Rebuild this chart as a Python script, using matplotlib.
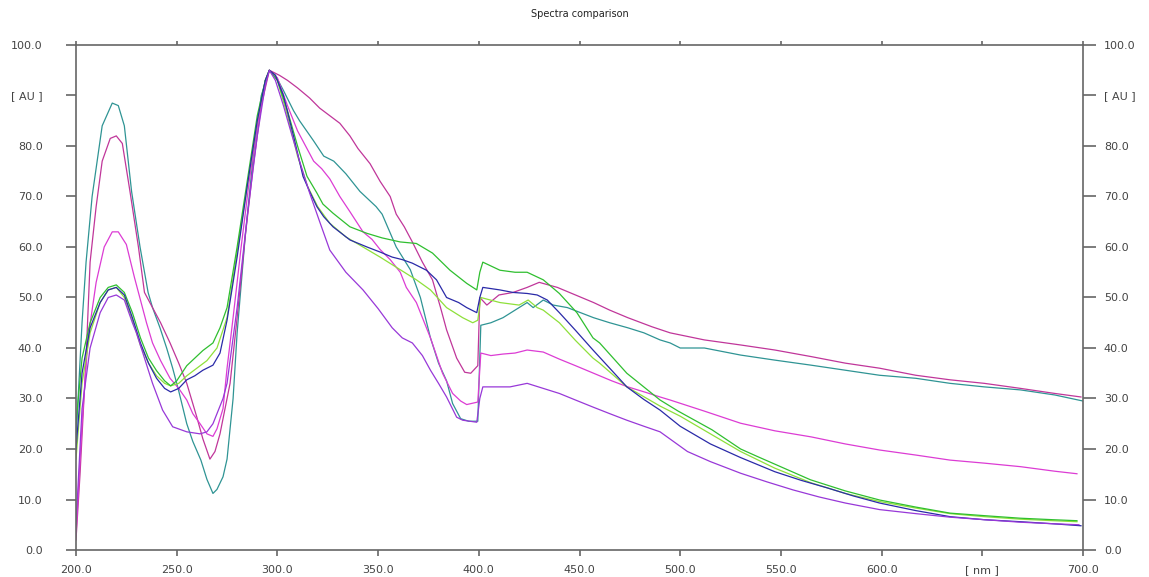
import matplotlib
matplotlib.use("Agg")
import matplotlib.pyplot as plt
import matplotlib.transforms as mtrans
from matplotlib.ticker import FixedLocator, FixedFormatter

# ---------------- data ----------------
teal_nm = [200, 203, 205, 208, 213, 218, 221, 224, 227.6, 231.8, 235.8, 238, 241.7, 245, 248, 251, 255, 258, 262, 265, 268,
           270, 273, 275, 278, 280, 284, 288, 292, 296, 299, 303, 308, 311, 318, 323, 328, 334, 341, 349, 352, 359, 366,
           371, 376, 380, 384, 387, 391, 395, 399.5, 401, 406, 412, 418, 424, 427, 432, 437, 444, 457, 465, 474, 482,
           490, 495, 500, 512, 530, 547, 565, 582, 599, 617, 634, 651, 669, 686, 700]
teal_au = [22, 45, 57, 70, 84, 88.5, 88, 84, 71, 60, 51, 48, 44, 40, 36, 31.5, 25, 21.5, 17.8, 14, 11.2,
           12, 14.5, 18, 30, 43, 62, 78, 90, 95, 94, 91, 87, 85, 81, 78, 77, 74.5, 71, 68, 66.5, 60, 55.5,
           50, 42, 37, 33.5, 29, 26, 25.5, 25.5, 44.5, 45, 46, 47.5, 49, 48, 49.5, 48.5, 48, 46, 45, 44, 43,
           41.6, 41, 40, 40, 38.6, 37.6, 36.6, 35.6, 34.6, 34, 33, 32.3, 31.7, 30.7, 29.5]

dmag_nm = [200, 202, 205, 207, 210, 213, 217, 220, 223, 226.8, 231, 234, 238, 242, 246.7, 251, 255, 260, 263, 266.5,
           269, 271.5, 276.5, 280, 284, 288, 292, 296, 301, 305, 310, 316, 321, 326, 331, 336, 340, 346, 351, 356,
           359, 363, 367, 372, 377, 381, 384, 389, 393, 396, 399.5, 400.5, 404, 410, 417, 424, 430, 439, 445, 451,
           457, 465, 474, 486, 495, 512, 530, 547, 565, 582, 599, 617, 634, 651, 669, 686, 699]
dmag_au = [2, 15, 38, 57, 68, 77, 81.5, 82, 80.5, 71, 60, 51, 48, 45, 41, 37, 33, 26.3, 22, 18,
           19.5, 23, 33, 46, 62, 76, 88, 95, 94, 93, 91.5, 89.5, 87.5, 86, 84.5, 82, 79.5, 76.5, 73, 70,
           66.5, 64, 61, 57, 53.5, 48, 43.6, 38, 35.2, 35, 36.5, 50, 48.5, 50.5, 51, 52, 53, 52, 51, 50,
           49, 47.5, 46, 44.2, 43, 41.6, 40.6, 39.6, 38.3, 37, 36, 34.6, 33.7, 33, 32, 31, 30.3]

bmag_nm = [200, 203, 206, 210, 214, 218, 221, 225, 229, 232, 235, 238, 242, 246.7, 251, 255, 258, 261.6, 265, 268,
           270, 273, 275, 278, 282, 286, 290, 294, 296, 300, 305, 310, 314, 318, 322, 326, 331, 336, 342.5, 347,
           351, 356, 361, 364, 369, 373, 376, 382, 387, 391, 394, 399.5, 401, 406, 412, 418, 424, 432, 440, 448,
           457, 466, 474, 483, 490, 495, 512, 530, 547, 565, 582, 599, 617, 634, 651, 669, 686, 697]
bmag_au = [3, 25, 42, 53, 60, 63, 63, 60.5, 54, 49.5, 45, 41, 37.5, 34, 32, 29.7, 27, 25, 23, 22.5,
           24, 28, 36, 46, 60, 73, 84, 93, 95, 93.5, 88, 83, 80, 77, 75.5, 73.5, 70, 67, 63, 61.5,
           59.5, 57.5, 55, 52, 49, 45, 42, 35, 31, 29.5, 28.8, 29.3, 39, 38.5, 38.8, 39, 39.6, 39.2, 37.8, 36.5,
           35, 33.5, 32.3, 31.2, 30.3, 29.7, 27.5, 25.1, 23.6, 22.4, 21, 19.8, 18.8, 17.8, 17.2, 16.5, 15.6, 15.1]

green_nm = [200, 203, 207, 212, 216, 220, 224, 228, 232, 236, 240, 244, 247, 250, 255, 259, 263, 268, 271.5, 275,
            280, 285, 290, 294, 296, 300, 305, 310, 314.7, 319.6, 322.6, 327.6, 336, 344.5, 352, 361, 369, 377,
            385.7, 394, 399, 400.5, 402, 410.5, 418, 424, 432, 440, 448.7, 456.7, 460, 473.5, 490, 499, 515.8,
            530, 538.4, 564.7, 582, 599, 617, 634, 651, 668.7, 685, 697]
green_au = [25, 38, 45, 50, 52, 52.5, 51, 47, 42, 38, 35.5, 33.5, 32.5, 33.5, 36.5, 38, 39.5, 41, 44, 48,
            60, 73, 86, 93, 95, 93, 87, 80, 74, 70.7, 68.5, 66.7, 64, 62.7, 61.8, 61, 60.7, 58.8,
            55.4, 52.8, 51.5, 55, 57, 55.4, 55, 55, 53.5, 50.8, 47, 42, 41, 35, 29.7, 27.5, 23.8,
            20, 18.5, 13.9, 11.7, 9.9, 8.5, 7.3, 6.8, 6.3, 6.0, 5.8]

navy_nm = [200, 203, 207, 212, 216, 220, 224, 228, 232, 236, 240, 244, 247, 251, 255, 259, 263, 268, 271.5, 275,
           280, 285, 290, 294, 296, 299, 303, 308, 312.7, 316, 319.6, 323, 327.6, 336, 344.5, 351, 357, 362, 367,
           374, 379, 384, 390, 394, 399, 400.5, 402, 410.5, 417, 424, 429, 434, 440, 448, 456.7, 465, 473.5, 482,
           490, 500, 515, 530, 547, 560, 573, 586, 599, 617, 634, 651, 669, 685, 699]
navy_au = [20, 35, 44, 49, 51.5, 52, 50.5, 46, 41, 37, 34, 32, 31.3, 32, 33.7, 34.5, 35.6, 36.6, 39, 45.5,
           58, 72, 85, 93, 95, 94, 90, 82, 74, 71, 68, 66, 64, 61.4, 60, 59, 58, 57.5, 56.8,
           55.4, 53.5, 50, 49, 48, 47, 50, 52, 51.5, 51, 50.8, 50.5, 49.5, 47, 43.5, 39.6, 36, 32.3, 29.8,
           27.7, 24.5, 21, 18.3, 15.5, 13.8, 12.3, 10.7, 9.3, 7.8, 6.6, 6.0, 5.6, 5.2, 4.8]

lime_nm = [200, 203, 207, 212, 216, 220, 224, 228, 232, 236, 240, 244, 247, 251, 255, 260, 265, 270, 275,
           280, 285, 290, 294, 296, 300, 305, 310, 315, 320, 326, 334, 342.5, 351, 359, 369, 376, 384, 392, 397,
           399.5, 401, 410.5, 420, 424.5, 429, 432, 440, 448, 456.7, 460, 473.5, 490, 500, 515, 530, 547, 565,
           582, 599, 617, 634, 651, 669, 685, 697]
lime_au = [18, 33, 43, 49, 51.5, 52, 50, 45.5, 40.5, 37, 34.5, 33, 32.5, 33, 34.5, 36, 37.5, 40, 46,
           59, 72, 85, 93, 95, 93, 86, 78, 72, 68, 64.7, 62, 60, 58, 56, 53.5, 51.5, 48, 46, 45,
           45.5, 50, 49, 48.5, 49.5, 48, 47.5, 45, 41.5, 38, 37, 32.3, 28.5, 26.5, 23, 19.5, 16.2, 13.3,
           11.2, 9.6, 8.3, 7.2, 6.6, 6.1, 5.8, 5.6]

purple_nm = [200, 203, 207, 212, 216, 220, 224, 228, 230, 234, 238, 243, 248, 255, 261.6, 265, 268, 270, 273, 275,
             280, 285, 290, 294, 296, 299, 303, 306, 311, 316, 321, 326, 334, 342.5, 350, 357, 362, 367, 372, 376,
             380, 384, 389, 392, 399, 400.5, 402, 409, 415.5, 424, 432, 440, 448, 456.7, 465, 473.5, 482, 490,
             503.6, 515, 530, 543, 556, 569, 582, 599, 617, 634, 651, 669, 685, 698]
purple_au = [5, 28, 40, 47, 50, 50.5, 49.5, 45, 43, 38, 33, 27.7, 24.4, 23.4, 23, 23.4, 25, 27, 30, 33,
             48, 66, 82, 92, 95, 93, 88, 83.8, 77, 70.7, 65, 59.4, 55, 51.5, 47.8, 44, 42, 41, 38.5, 35.6,
             33, 30.3, 26.3, 25.7, 25.3, 30, 32.3, 32.3, 32.3, 33, 32, 31, 29.7, 28.3, 27, 25.7, 24.5, 23.4,
             19.5, 17.5, 15.2, 13.5, 11.9, 10.5, 9.3, 8, 7.2, 6.5, 6.0, 5.5, 5.2, 5.0]

y_ticks = [0, 10, 20, 30, 40, 50, 60, 70, 80, 90, 100]
y_labels = ["0.0", "10.0", "20.0", "30.0", "40.0", "50.0", "60.0", "70.0", "80.0", "[ AU ]", "100.0"]
x_ticks = [200, 250, 300, 350, 400, 450, 500, 550, 600, 650, 700]
x_labels = ["200.0", "250.0", "300.0", "350.0", "400.0", "450.0", "500.0", "550.0", "600.0", "[ nm ]", "700.0"]
title = "Spectra comparison"

# ---------------- figure ----------------
W, H = 1149, 577
fig = plt.figure(figsize=(W / 100, H / 100), dpi=100)
fig.patch.set_facecolor("white")
ax = fig.add_axes([76 / W, 27 / H, 1007 / W, 505 / H])

series = [
    (teal_nm, teal_au, "#2f9494"),
    (dmag_nm, dmag_au, "#c0369a"),
    (bmag_nm, bmag_au, "#dc3cd4"),
    (lime_nm, lime_au, "#8ee03a"),
    (green_nm, green_au, "#2fbf2f"),
    (navy_nm, navy_au, "#2a2aa8"),
    (purple_nm, purple_au, "#9838d8"),
]
for xs, ys, c in series:
    ax.plot(xs, ys, color=c, lw=0.9, solid_joinstyle="round")

ax.set_xlim(200, 700)
ax.set_ylim(0, 100)

spine_c = "#666666"
for s in ax.spines.values():
    s.set_color(spine_c)
    s.set_linewidth(1.2)

ax.yaxis.set_major_locator(FixedLocator(y_ticks))
ax.yaxis.set_major_formatter(FixedFormatter(y_labels))
ax.xaxis.set_major_locator(FixedLocator(x_ticks))
ax.xaxis.set_major_formatter(FixedFormatter(x_labels))

lab_c = "#444444"
ax.tick_params(axis="y", which="major", left=True, right=True, labelleft=True, labelright=True,
               direction="out", color=spine_c, width=1.2, length=7, pad=17,
               labelsize=8, labelcolor=lab_c)
for t in ax.yaxis.get_major_ticks():
    t.tick2line.set_markersize(9)
ax.tick_params(axis="x", which="major", bottom=True, top=True, labelbottom=True, labeltop=False,
               direction="out", color=spine_c, width=1.2, length=4, pad=7, labelsize=8, labelcolor=lab_c)
for t in ax.xaxis.get_major_ticks():
    t.tick2line.set_markersize(3)

# right labels closer to the axis than left labels
for t in ax.yaxis.get_major_ticks():
    t.label2.set_transform(t.label2.get_transform() + mtrans.ScaledTranslation(-9 / 72, 0, fig.dpi_scale_trans))

fig.text(579.5 / W, 1 - 14 / H, title, ha="center", va="center", fontsize=7, color="#222222")

fig.savefig("out.png", dpi=100, facecolor="white")
